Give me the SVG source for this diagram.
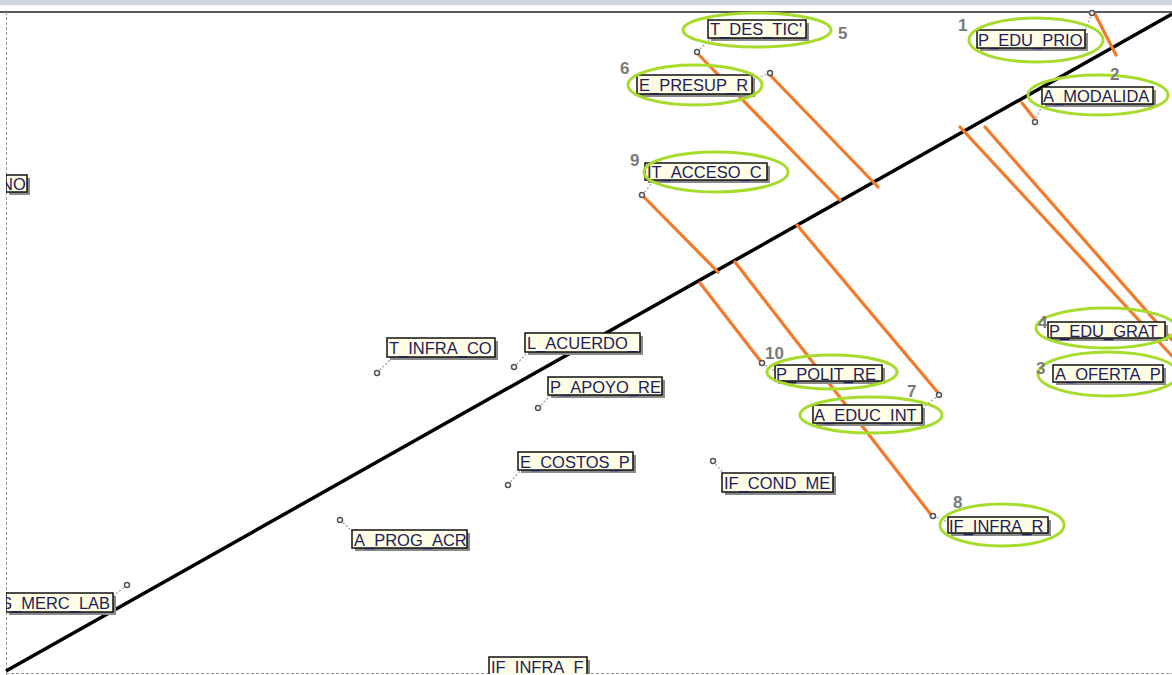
<svg xmlns="http://www.w3.org/2000/svg" width="1172" height="675" viewBox="0 0 1172 675">
<style>
.box{fill:#fffde6;stroke:#111;stroke-width:1.5}
.sh{fill:#8a8a8a}
.t{font-family:"Liberation Sans",Arial,sans-serif;font-size:16.5px;fill:#1c1c5a}
.num{font-family:"Liberation Sans",Arial,sans-serif;font-size:17px;font-weight:bold;fill:#7a7a7a}
.ell{fill:none;stroke:#a8dc2c;stroke-width:3}
.or{stroke:#f47a2a;stroke-width:3.2;fill:none;stroke-linecap:round}
.lead{stroke:#999;stroke-width:1.2;stroke-dasharray:2 2;fill:none}
.anc{fill:#fff;stroke:#555;stroke-width:1.5}
.frame{stroke:#999;stroke-width:1;stroke-dasharray:3 2;fill:none}
</style>
<defs>
<clipPath id="cl"><rect x="6" y="0" width="1166" height="674"/></clipPath>
</defs>
<rect width="1172" height="675" fill="#fff"/>
<rect x="0" y="0" width="1172" height="5" fill="#cdd5e3"/>
<line x1="0" y1="12" x2="1172" y2="12" stroke="#222" stroke-width="1.5"/>
<line class="frame" x1="6.5" y1="12" x2="6.5" y2="675"/>
<line class="frame" x1="6" y1="673.5" x2="1172" y2="673.5"/>

<g id="connectors">
<line x1="6" y1="671" x2="1172" y2="14" stroke="#000" stroke-width="3.5"/>
<line class="or" x1="1095" y1="14" x2="1116" y2="55"/>
<line class="or" x1="1022" y1="103" x2="1034" y2="118"/>
<line class="or" x1="960" y1="127" x2="1172" y2="356"/>
<line class="or" x1="985" y1="127" x2="1172" y2="340"/>
<line class="or" x1="770" y1="75" x2="878" y2="187"/>
<line class="or" x1="697" y1="53" x2="840" y2="200"/>
<line class="or" x1="642" y1="195" x2="718" y2="272"/>
<line class="or" x1="700" y1="283" x2="762" y2="363"/>
<line class="or" x1="735" y1="262" x2="932" y2="516"/>
<line class="or" x1="797" y1="225" x2="940" y2="395"/>
</g>

<g id="n5">
<line class="lead" x1="697" y1="52" x2="710" y2="39"/>
<circle class="anc" cx="697" cy="52" r="2.5"/>
<rect class="sh" x="711" y="23" width="98" height="18"/>
<rect class="box" x="708" y="20" width="98" height="18"/>
<text class="t" x="710" y="35">T_DES_TIC'</text>
<ellipse class="ell" cx="757" cy="30" rx="74" ry="17"/>
<text class="num" x="838" y="39">5</text>
</g>
<g id="n6">
<line class="lead" x1="770" y1="73" x2="753" y2="80"/>
<circle class="anc" cx="770" cy="73" r="2.5"/>
<rect class="sh" x="640" y="78" width="115" height="19"/>
<rect class="box" x="637" y="75" width="115" height="19"/>
<text class="t" x="639" y="91">E_PRESUP_R</text>
<ellipse class="ell" cx="695" cy="85" rx="67" ry="20"/>
<text class="num" x="620" y="74">6</text>
</g>
<g id="n1">
<line class="lead" x1="1092" y1="13" x2="1085" y2="32"/>
<circle class="anc" cx="1092" cy="13" r="2.5"/>
<rect class="sh" x="980" y="33" width="108" height="18"/>
<rect class="box" x="977" y="30" width="108" height="18"/>
<text class="t" x="978" y="46">P_EDU_PRIO</text>
<ellipse class="ell" cx="1036" cy="40" rx="67" ry="22"/>
<text class="num" x="958" y="31">1</text>
</g>
<g id="n2">
<line class="lead" x1="1035" y1="122" x2="1043" y2="103"/>
<circle class="anc" cx="1035" cy="122" r="2.5"/>
<rect class="sh" x="1045" y="90" width="111" height="17"/>
<rect class="box" x="1042" y="87" width="111" height="17"/>
<text class="t" x="1043" y="102">A_MODALIDA</text>
<ellipse class="ell" cx="1098" cy="95" rx="70" ry="20"/>
<text class="num" x="1110" y="80">2</text>
</g>
<g id="n9">
<line class="lead" x1="642" y1="195" x2="654" y2="181"/>
<circle class="anc" cx="642" cy="195" r="2.5"/>
<rect class="sh" x="648" y="166" width="122" height="17"/>
<rect class="box" x="645" y="163" width="122" height="17"/>
<text class="t" x="647" y="178">IT_ACCESO_C</text>
<ellipse class="ell" cx="716" cy="172" rx="72" ry="20"/>
<text class="num" x="630" y="166">9</text>
</g>
<g id="n-no" clip-path="url(#cl)">
<rect class="sh" x="9" y="178" width="21" height="17"/>
<rect class="box" x="6" y="175" width="21" height="17"/>
<text class="t" x="1" y="190">NO</text>
</g>
<g id="n-infraco">
<line class="lead" x1="377" y1="373" x2="392" y2="358"/>
<circle class="anc" cx="377" cy="373" r="2.5"/>
<rect class="sh" x="390" y="341" width="108" height="19"/>
<rect class="box" x="387" y="338" width="108" height="19"/>
<text class="t" x="389" y="354">T_INFRA_CO</text>
</g>
<g id="n-acuerdo">
<line class="lead" x1="514" y1="367" x2="527" y2="353"/>
<circle class="anc" cx="514" cy="367" r="2.5"/>
<rect class="sh" x="528" y="336" width="115" height="19"/>
<rect class="box" x="525" y="333" width="115" height="19"/>
<text class="t" x="527" y="349">L_ACUERDO_</text>
</g>
<g id="n-apoyo">
<line class="lead" x1="538" y1="408" x2="550" y2="396"/>
<circle class="anc" cx="538" cy="408" r="2.5"/>
<rect class="sh" x="551" y="380" width="114" height="18"/>
<rect class="box" x="548" y="377" width="114" height="18"/>
<text class="t" x="550" y="393">P_APOYO_RE</text>
</g>
<g id="n10">
<line class="lead" x1="762" y1="363" x2="776" y2="372"/>
<circle class="anc" cx="762" cy="363" r="2.5"/>
<rect class="sh" x="778" y="368" width="107" height="16"/>
<rect class="box" x="775" y="365" width="107" height="16"/>
<text class="t" x="776" y="380">P_POLIT_RE</text>
<ellipse class="ell" cx="832" cy="372" rx="65" ry="17"/>
<text class="num" x="765" y="359">10</text>
</g>
<g id="n7">
<line class="lead" x1="939" y1="395" x2="922" y2="408"/>
<circle class="anc" cx="939" cy="395" r="2.5"/>
<rect class="sh" x="816" y="408" width="109" height="18"/>
<rect class="box" x="813" y="405" width="109" height="18"/>
<text class="t" x="814" y="421">A_EDUC_INT</text>
<ellipse class="ell" cx="871" cy="415" rx="71" ry="18"/>
<text class="num" x="907" y="397">7</text>
</g>
<g id="n4">
<rect class="sh" x="1051" y="325" width="117" height="16"/>
<rect class="box" x="1048" y="322" width="117" height="16"/>
<text class="t" x="1049" y="337">P_EDU_GRAT</text>
<ellipse class="ell" cx="1106" cy="328" rx="70" ry="20"/>
<text class="num" x="1038" y="328">4</text>
</g>
<g id="n3">
<rect class="sh" x="1056" y="368" width="110" height="17"/>
<rect class="box" x="1053" y="365" width="110" height="17"/>
<text class="t" x="1055" y="380">A_OFERTA_P</text>
<ellipse class="ell" cx="1108" cy="374" rx="70" ry="22"/>
<text class="num" x="1036" y="374">3</text>
</g>
<g id="n-costos">
<line class="lead" x1="508" y1="485" x2="520" y2="471"/>
<circle class="anc" cx="508" cy="485" r="2.5"/>
<rect class="sh" x="521" y="455" width="115" height="18"/>
<rect class="box" x="518" y="452" width="115" height="18"/>
<text class="t" x="520" y="468">E_COSTOS_P</text>
</g>
<g id="n-condme">
<line class="lead" x1="713" y1="461" x2="724" y2="474"/>
<circle class="anc" cx="713" cy="461" r="2.5"/>
<rect class="sh" x="725" y="476" width="111" height="19"/>
<rect class="box" x="722" y="473" width="111" height="19"/>
<text class="t" x="724" y="489">IF_COND_ME</text>
</g>
<g id="n-merclab" clip-path="url(#cl)">
<line class="lead" x1="127" y1="585" x2="113" y2="596"/>
<circle class="anc" cx="127" cy="585" r="2.5"/>
<rect class="sh" x="9" y="596" width="107" height="19"/>
<rect class="box" x="6" y="593" width="107" height="19"/>
<text class="t" x="1" y="609">S_MERC_LAB</text>
</g>
<g id="n-infraf" clip-path="url(#cl)">
<rect class="sh" x="492" y="660" width="98" height="15"/>
<rect class="box" x="489" y="657" width="98" height="18"/>
<text class="t" x="491" y="673">IF_INFRA_F</text>
</g>
<g id="n8">
<line class="lead" x1="933" y1="516" x2="948" y2="522"/>
<circle class="anc" cx="933" cy="516" r="2.5"/>
<rect class="sh" x="951" y="520" width="100" height="16"/>
<rect class="box" x="948" y="517" width="100" height="16"/>
<text class="t" x="949" y="532">IF_INFRA_R</text>
<ellipse class="ell" cx="1002" cy="525" rx="62" ry="21"/>
<text class="num" x="953" y="508">8</text>
</g>
<g id="n-progacr">
<line class="lead" x1="340" y1="520" x2="352" y2="531"/>
<circle class="anc" cx="340" cy="520" r="2.5"/>
<rect class="sh" x="355" y="533" width="115" height="18"/>
<rect class="box" x="352" y="530" width="115" height="18"/>
<text class="t" x="354" y="546">A_PROG_ACR</text>
</g>
</svg>
